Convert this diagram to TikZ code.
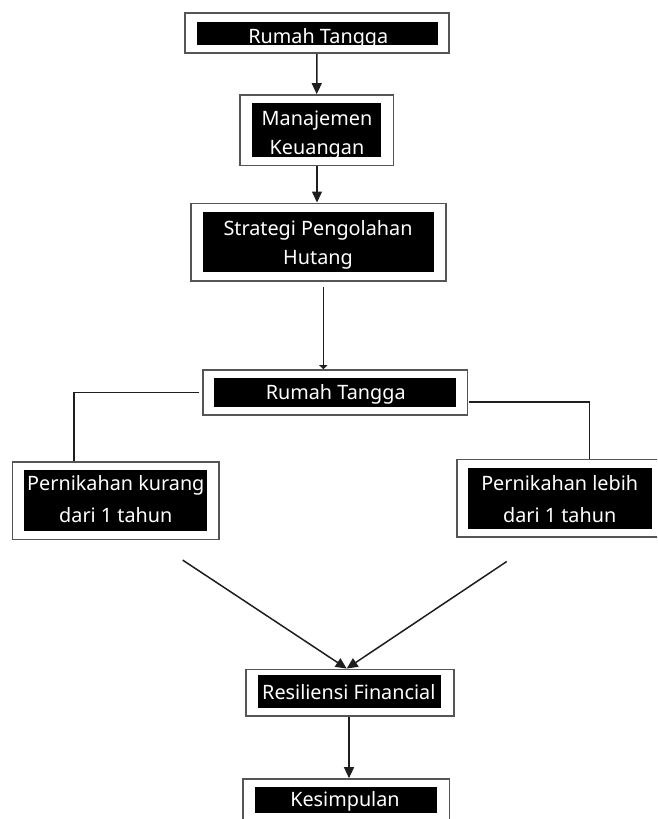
\documentclass[tikz,border=0pt]{standalone}
\usepackage{fontspec}
\setmainfont{Noto Sans}
\usetikzlibrary{arrows.meta,calc}
\definecolor{boxgray}{HTML}{555555}
\definecolor{linegray}{HTML}{1E1E1E}
\begin{document}
\begin{tikzpicture}[x=1pt,y=-1pt,
  outerbox/.style={draw=boxgray, line width=1.6pt, fill=white, inner sep=0pt, rectangle},
  blackbox/.style={fill=black, draw=none, inner sep=0pt, rectangle},
  lbl/.style={text=white, font=\fontsize{19.8}{29}\selectfont, inner sep=0pt, align=center, anchor=base},
  conn/.style={draw=linegray, line width=1.5pt},
  arr/.style={conn, -{Triangle[length=11pt,width=10pt]}},
  smallarr/.style={conn, -{Triangle[length=4pt,width=8pt]}}]
\clip (0,0) rectangle (657,819);
\useasboundingbox (0,0) rectangle (657,819);
% boxes
\node[outerbox, minimum width=264.3pt, minimum height=40pt] (b1) at (316.9,33) {};
\node[blackbox, minimum width=241pt, minimum height=23.3pt] (b1i) at (317.2,33.3) {};
\node[lbl] (t1) at (318.3,43.3) {Rumah Tangga};

\node[outerbox, minimum width=153.3pt, minimum height=70.7pt] (b2) at (316.7,130.3) {};
\node[blackbox, minimum width=129.6pt, minimum height=54.6pt] (b2i) at (316.5,130) {};
\node[lbl] (t2a) at (317,125) {Manajemen};
\node[lbl] (t2b) at (317,154) {Keuangan};

\node[outerbox, minimum width=255pt, minimum height=77.4pt] (b3) at (318.2,242) {};
\node[blackbox, minimum width=230.7pt, minimum height=60.6pt] (b3i) at (318.7,242) {};
\node[lbl] (t3a) at (318,235) {Strategi Pengolahan};
\node[lbl] (t3b) at (318,264) {Hutang};

\node[outerbox, minimum width=264.6pt, minimum height=45pt] (b4) at (335,392.5) {};
\node[blackbox, minimum width=241.7pt, minimum height=29pt] (b4i) at (335.2,392.2) {};
\node[lbl] (t4) at (335.7,399.3) {Rumah Tangga};

\node[outerbox, minimum width=206.7pt, minimum height=77.6pt] (b5) at (115.7,500.5) {};
\node[blackbox, minimum width=183.3pt, minimum height=60.7pt] (b5i) at (115.7,500.3) {};
\node[lbl] (t5a) at (115.8,490) {Pernikahan kurang};
\node[lbl] (t5b) at (115.8,522.3) {dari 1 tahun};

\node[outerbox, minimum width=206.6pt, minimum height=77.4pt] (b6) at (560,498) {};
\node[blackbox, minimum width=183.4pt, minimum height=61pt] (b6i) at (560,498.8) {};
\node[lbl] (t6a) at (559.7,490) {Pernikahan lebih};
\node[lbl] (t6b) at (559.7,522.3) {dari 1 tahun};

\node[outerbox, minimum width=208pt, minimum height=46.7pt] (b7) at (350,692.7) {};
\node[blackbox, minimum width=182.4pt, minimum height=33.3pt] (b7i) at (349.5,691.7) {};
\node[lbl] (t7) at (348.8,699.3) {Resiliensi Financial};

\node[outerbox, minimum width=206.6pt, minimum height=46.7pt] (b8) at (346,802.3) {};
\node[blackbox, minimum width=182.3pt, minimum height=26pt] (b8i) at (346.2,799.7) {};
\node[lbl] (t8) at (345,806.7) {Kesimpulan};

% connectors
\draw[arr] (b1.south) -- (b2.north);
\draw[arr] ($(b2.south)+(0.3,0)$) -- ($(b3.north)+(-1.2,0)$);
\draw[smallarr] ($(b3.south)+(5.1,5.3)$) -- ($(b4.north)+(-11.7,0)$);
\draw[conn] ($(b4.west)+(-2.7,-0.2)$) -| ($(b5.north)+(-41.7,0)$);
\draw[conn] ($(b4.east)+(0.4,9.5)$) -| ($(b6.north)+(29.3,0)$);
\draw[arr] ($(b5.south)+(67,20)$) -- ($(b7.north)+(-3.3,0)$);
\draw[arr] ($(b6.south)+(-53.3,24)$) -- ($(b7.north)+(-3.3,0)$);
\draw[arr] ($(b7.south)+(-1,0)$) -- ($(b8.north)+(3,0)$);
\end{tikzpicture}
\end{document}
